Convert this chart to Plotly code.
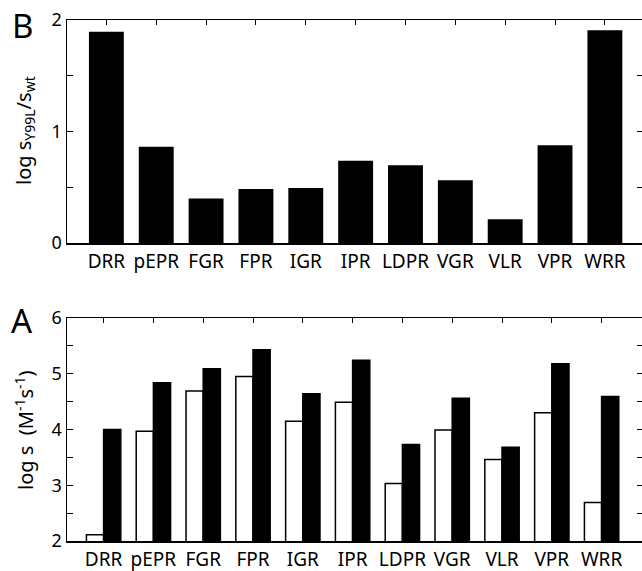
import plotly.graph_objects as go

categories = ["DRR", "pEPR", "FGR", "FPR", "IGR", "IPR", "LDPR", "VGR", "VLR", "VPR", "WRR"]
ratio_B = [1.895, 0.864, 0.40, 0.484, 0.493, 0.738, 0.697, 0.562, 0.212, 0.876, 1.907]
wt_A = [2.11, 3.97, 4.69, 4.95, 4.15, 4.49, 3.03, 3.99, 3.46, 4.30, 2.69]
y99l_A = [4.00, 4.84, 5.09, 5.43, 4.64, 5.24, 3.73, 4.56, 3.68, 5.18, 4.59]

W, H = 642, 571
L = 67
FONT = "Noto Sans"

def py(px):
    return 1 - px / H

def pxx(px):
    return (px - L) / (W - L)

xs = list(range(len(categories)))

fig = go.Figure()
fig.add_trace(go.Bar(x=xs, y=ratio_B, marker=dict(color="black", line=dict(width=0)),
                     width=0.7, xaxis="x", yaxis="y", showlegend=False))
fig.add_trace(go.Bar(x=xs, y=wt_A, marker=dict(color="white", line=dict(color="black", width=1.5)),
                     offsetgroup="wt", xaxis="x2", yaxis="y2", showlegend=False))
fig.add_trace(go.Bar(x=xs, y=y99l_A, marker=dict(color="black", line=dict(color="black", width=1.5)),
                     offsetgroup="mut", xaxis="x2", yaxis="y2", showlegend=False))

tickfont = dict(family=FONT, size=19, color="black")
xcommon = dict(tickmode="array", tickvals=xs, ticktext=categories, showline=True, linecolor="black",
               linewidth=1.5, ticks="inside", ticklen=5, tickcolor="black", tickwidth=1,
               mirror="ticks", showgrid=False, zeroline=False, tickfont=tickfont,
               ticklabelstandoff=1)
ycommon = dict(showline=True, linecolor="black", linewidth=1.5, ticks="inside", ticklen=6,
               tickcolor="black", tickwidth=1, showgrid=False, zeroline=False,
               tickfont=dict(family=FONT, size=18, color="black"), dtick=1,
               minor=dict(dtick=0.5, ticks="inside", ticklen=6, tickcolor="black", tickwidth=1))

per_B = 49.85
per_A = 49.8
span = W - L
fig.update_layout(
    width=W, height=H, template="none",
    margin=dict(l=L, r=0, t=0, b=0),
    paper_bgcolor="white", plot_bgcolor="white",
    barmode="group", bargap=0.31, bargroupgap=0,
    xaxis=dict(xcommon, domain=[0, 1], anchor="y", range=[-0.79, -0.79 + span / per_B]),
    yaxis=dict(ycommon, domain=[py(243), py(20)], anchor="x", range=[0, 2]),
    yaxis3=dict(ycommon, domain=[py(243), py(20)], anchor="x", overlaying="y", side="right",
                showline=False, showticklabels=False, range=[0, 2], ticklen=5,
                minor=dict(dtick=0.5, ticks="inside", ticklen=5, tickcolor="black", tickwidth=1)),
    xaxis2=dict(xcommon, domain=[0, 1], anchor="y2", range=[-0.735, -0.735 + span / per_A]),
    yaxis2=dict(ycommon, domain=[py(541), py(318)], anchor="x2", range=[2, 6]),
    yaxis4=dict(ycommon, domain=[py(541), py(318)], anchor="x2", overlaying="y2", side="right",
                showline=False, showticklabels=False, range=[2, 6], ticklen=5,
                minor=dict(dtick=0.5, ticks="inside", ticklen=5, tickcolor="black", tickwidth=1)),
)

# dummy traces so the overlay tick axes are drawn
fig.add_trace(go.Scatter(x=[None], y=[None], xaxis="x", yaxis="y3", showlegend=False))
fig.add_trace(go.Scatter(x=[None], y=[None], xaxis="x2", yaxis="y4", showlegend=False))

ann_font = dict(family=FONT, size=20, color="black")
fig.add_annotation(text="log s<sub>Y99L</sub>/s<sub>wt</sub>", xref="paper", yref="paper",
                   x=pxx(24), y=py(131), textangle=-90, showarrow=False, font=ann_font,
                   xanchor="center", yanchor="middle")
fig.add_annotation(text="log s\u00a0\u00a0(M<sup>-1</sup>s<sup>-1</sup>)", xref="paper", yref="paper",
                   x=pxx(24), y=py(430), textangle=-90, showarrow=False, font=ann_font,
                   xanchor="center", yanchor="middle")
fig.add_annotation(text="B", xref="paper", yref="paper", x=pxx(22), y=py(25), showarrow=False,
                   font=dict(family=FONT, size=33, color="black"), xanchor="center", yanchor="middle")
fig.add_annotation(text="A", xref="paper", yref="paper", x=pxx(22), y=py(320), showarrow=False,
                   font=dict(family=FONT, size=33, color="black"), xanchor="center", yanchor="middle")

fig.write_html("out.html", config={"displayModeBar": False, "staticPlot": True},
               post_script="document.body.style.margin='0';document.body.style.overflow='hidden';")
